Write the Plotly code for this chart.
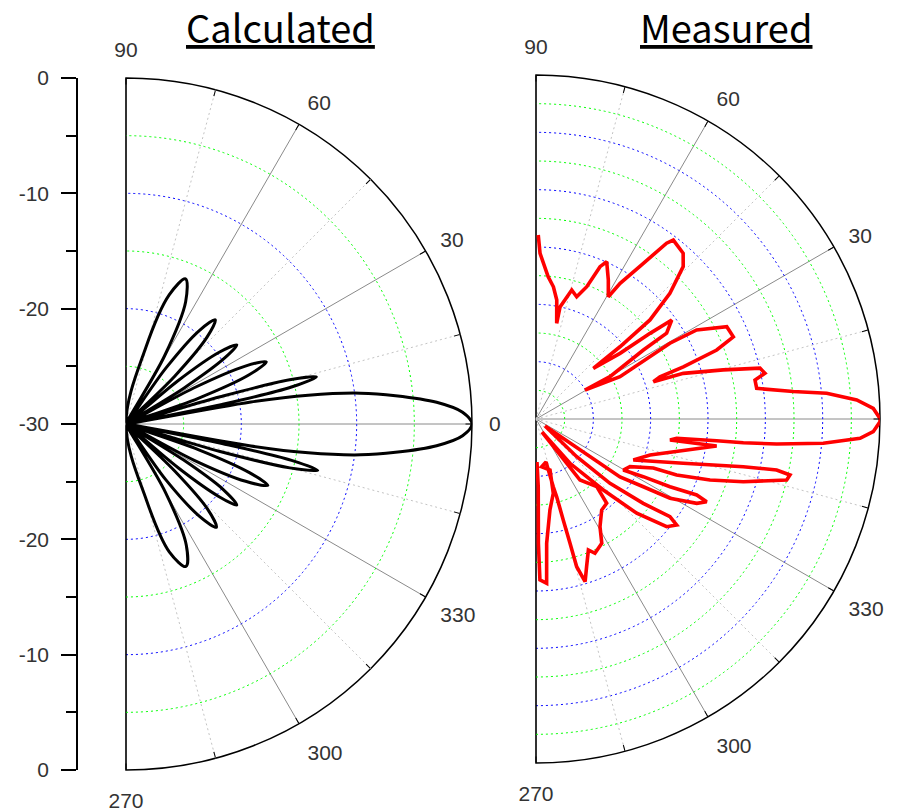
import plotly.graph_objects as go

# ---------------- data ----------------
calc_theta = [-78.5, -75, -71.3, -67.2, -63.5, -60, -57,
              -54.5, -51.5, -48.8, -46.2, -44, -42,
              -40, -38, -36.2, -34, -32, -30,
              -28, -25.6, -23.4, -21.5, -19.5, -17.5,
              -16.3, -15, -13.6, -12.4, -11.5, -10.8,
              -10, -9, -7.5, -6, -4, -2, 0, 2, 4, 6, 7.5, 9, 10, 10.8,
              11.5, 12.6, 13.9, 15.1, 16.1, 17.2,
              19.6, 21.8, 23.9, 25.9, 28, 30,
              31.8, 33.7, 35.5, 37.6, 39.8, 42,
              44.5, 47, 49.4, 51.9, 54.5, 57,
              60.5, 64, 67.7, 71.5, 75.5, 79]
calc_db = [-30, -23.2, -18.3, -16.6, -18.3, -23.2, -30,
           -24.1, -19.8, -18.1, -19.8, -24.1, -30,
           -24.1, -19.8, -18.1, -19.8, -24.1, -30,
           -23.3, -18.5, -16.6, -18.5, -23.3, -30,
           -21.5, -15.3, -12.9, -15.3, -21.5, -30,
           -19, -14, -9.5, -6.5, -3, -0.8, 0, -0.8, -3, -6.5, -9.5, -14, -19, -30,
           -21.5, -15.3, -13, -15.3, -21.5, -30,
           -23.35, -18.5, -16.7, -18.5, -23.35, -30,
           -24.1, -19.8, -18.2, -19.8, -24.1, -30,
           -24.05, -19.7, -18.1, -19.7, -24.05, -30,
           -23.2, -18.2, -16.4, -18.2, -23.2, -30]

meas_theta = [89.3, 88.6, 85.1, 82.5, 80.1, 77.8, 77.9, 74.5, 71.6, 69.0, 67.2, 65.8,
              62.5, 59.4, 58.2, 55.4, 53.4, 52.5, 48.4, 46.0, 43.2, 41.0, 40.7, 41.5,
              38.0, 36.9, 36.1, 33.3, 32.7, 29.8, 30.6, 26.7, 29.5, 29.0, 25.8, 22.6,
              20.9, 19.5, 18.8, 17.6, 17.2, 14.7, 12.8, 11.3, 10.1, 7.9, 6.1, 5.05,
              3.4, 1.8, 0.1,
              -0.45, -2.16, -3.41, -4.83, -5.93, -6.52, -6.85, -7.81, -8.91, -8.5,
              -17.5, -22.85, -16.74, -12.96, -11.96, -12.43, -13.68, -16.83, -19.32,
              -21.7, -22.67, -26.9, -30.3, -28.27, -26.8, -25.3, -25.85, -27.68,
              -30.6, -32.25, -34.6, -37.9, -42.8, -41.0, -38.2, -36.1, -37.0, -39.5,
              -43.1, -46.5, -52.5, -65.2, -54.2, -48.1, -50.0, -54.2, -59.3, -62.1,
              -66.3, -68.2, -71.1, -73.2, -74.6, -74.7, -74.9, -75.1, -75.7, -76.9,
              -83.2, -74.6, -76.9, -81.3, -85.1, -86.3, -88.6, -88.9, -88.1, -88.7]
meas_db = [-13.95, -15.55, -17.55, -18.37, -19.47, -21.46, -20.0, -18.33, -18.76, -17.64, -15.59, -14.96,
           -16.34, -17.61, -16.08, -13.51, -10.9, -10.33, -10.67, -11.52, -13.98, -16.83, -20.34, -23.33,
           -20.7, -17.56, -15.35, -16.37, -18.87, -22.57, -25.04, -21.8, -16.58, -13.98, -11.52, -11.36,
           -13.13, -16.37, -18.58, -19.26, -16.55, -13.12, -9.97, -9.64, -10.6, -10.57, -7.44, -4.55,
           -1.98, -0.57, 0.0,
           0.0, -0.57, -1.69, -4.86, -8.9, -11.8, -14.13, -17.62, -18.17, -14.07,
           -19.57, -20.79, -16.59, -11.45, -8.55, -7.32, -7.5, -11.11, -13.92,
           -16.8, -18.91, -20.81, -21.18, -19.38, -16.91, -14.5, -13.46, -14.17,
           -16.42, -18.93, -21.1, -29.0, -25.16, -21.45, -18.1, -15.54, -14.64, -15.23,
           -17.97, -21.47, -25.13, -28.75, -23.44, -22.07, -20.41, -20.21, -19.07, -17.74,
           -17.21, -17.7, -16.38, -15.18, -16.64, -18.76, -20.88, -22.99, -23.9, -26.15,
           -25.81, -25.39, -23.35, -21.97, -19.12, -15.64, -15.96, -19.16, -24.1, -26.25]

# axis / grid labels
angle_vals = [-90, -60, -30, 0, 30, 60, 90]
angle_text = ["270", "300", "330", "0", "30", "60", "90"]
minor_angle_vals = [-75, -45, -15, 15, 45, 75]
all_angle_ticks = [-90, -75, -60, -45, -30, -15, 0, 15, 30, 45, 60, 75, 90]
calc_major_rings = [-20, -10]
calc_minor_rings = [-25, -15, -5]
meas_major_rings = [-25, -20, -15, -10, -5]
meas_minor_rings = [-27.5, -22.5, -17.5, -12.5, -7.5, -2.5]
r_range = [-30, 0]
left_axis_vals = [-30, -20, -10, 0, 10, 20, 30]
left_axis_text = ["0", "-10", "-20", "-30", "-20", "-10", "0"]
titles = ["Calculated", "Measured"]

W, H = 904, 810
OFF = 8  # page offset of the graph div (default body margin)


def px_x(p):
    return (p - OFF) / W


def px_y(p):
    return 1 - (p - OFF) / H


DOT = "2px,3px"
tick_font = dict(family="Liberation Sans, Arial", size=21, color="#333333")


def polar_layers(xdom, ydom, major_rings, minor_rings):
    base = dict(domain=dict(x=xdom, y=ydom), sector=[-90, 90])
    A = dict(base, bgcolor="white",
             radialaxis=dict(range=r_range, tickvals=major_rings, showticklabels=False,
                             ticks="", showline=False, gridcolor="#0000ff",
                             griddash=DOT, gridwidth=1.2),
             angularaxis=dict(tickvals=angle_vals, ticktext=angle_text, ticks="outside",
                              ticklen=12, tickcolor="rgba(0,0,0,0)", showline=True,
                              linecolor="black", linewidth=1.5, gridcolor="#8a8a8a",
                              gridwidth=1, tickfont=tick_font))
    B = dict(base, bgcolor="rgba(0,0,0,0)",
             radialaxis=dict(range=r_range, tickvals=minor_rings, showticklabels=False,
                             ticks="", showline=False, gridcolor="#00ff00",
                             griddash=DOT, gridwidth=1.2),
             angularaxis=dict(tickvals=minor_angle_vals, showticklabels=False, ticks="",
                              showline=False, gridcolor="#c4c4c4", griddash=DOT,
                              gridwidth=1.2))
    C = dict(base, bgcolor="rgba(0,0,0,0)",
             radialaxis=dict(range=r_range, showgrid=False, showticklabels=False,
                             ticks="", showline=False),
             angularaxis=dict(tickvals=all_angle_ticks, showticklabels=False,
                              ticks="inside", ticklen=6, tickcolor="black",
                              tickwidth=1, showgrid=False, showline=False))
    return A, B, C


lx = [px_x(126), px_x(472)]
ly = [px_y(770), px_y(78)]
rx = [px_x(536), px_x(880)]
ry = [px_y(763), px_y(75)]

pA, pB, pC = polar_layers(lx, ly, calc_major_rings, calc_minor_rings)
qA, qB, qC = polar_layers(rx, ry, meas_major_rings, meas_minor_rings)

fig = go.Figure()
# invisible helper traces so that every polar layer is created
for sp in ["polar", "polar2"]:
    fig.add_trace(go.Scatterpolar(r=calc_db, theta=calc_theta, mode="lines",
                                  line=dict(color="rgba(0,0,0,0)"), hoverinfo="skip",
                                  showlegend=False, subplot=sp))
for sp in ["polar4", "polar5"]:
    fig.add_trace(go.Scatterpolar(r=meas_db, theta=meas_theta, mode="lines",
                                  line=dict(color="rgba(0,0,0,0)"), hoverinfo="skip",
                                  showlegend=False, subplot=sp))

fig.add_trace(go.Scatterpolar(r=calc_db, theta=calc_theta, mode="lines",
                              line=dict(color="black", width=3, shape="spline"),
                              showlegend=False, subplot="polar3"))
fig.add_trace(go.Scatterpolar(r=meas_db, theta=meas_theta, mode="lines",
                              line=dict(color="#ff0000", width=3.6),
                              showlegend=False, subplot="polar6"))
# empty cartesian trace to host the left dB axis
fig.add_trace(go.Scatter(x=[], y=[], showlegend=False))

fig.update_layout(
    width=W, height=H, autosize=False,
    margin=dict(l=0, r=0, t=0, b=0, pad=0, autoexpand=False),
    paper_bgcolor="white", plot_bgcolor="rgba(0,0,0,0)",
    polar=pA, polar2=pB, polar3=pC, polar4=qA, polar5=qB, polar6=qC,
    xaxis=dict(domain=[px_x(77), px_x(100)], visible=False, range=[0, 1],
               automargin=False),
    yaxis=dict(domain=ly, range=[-30, 30], anchor="free", position=px_x(77), side="left",
               tickmode="array", tickvals=left_axis_vals, ticktext=left_axis_text,
               ticks="outside", ticklen=15, tickwidth=1.5, tickcolor="black",
               showline=True, linecolor="black", linewidth=1.5, showgrid=False,
               zeroline=False, tickfont=tick_font, ticklabelstandoff=8, automargin=False,
               minor=dict(dtick=5, tick0=0, ticks="outside", ticklen=10,
                          tickwidth=1.5, tickcolor="black", showgrid=False)),
    shapes=[dict(type="rect", xref="paper", yref="paper", x0=px_x(347), x1=px_x(610),
                 y0=px_y(3), y1=1.05, fillcolor="#ffc000", line=dict(width=0))],
    annotations=[
        dict(text="<u>" + titles[0] + "</u>", x=px_x(280), y=px_y(26), xref="paper",
             yref="paper", showarrow=False, xanchor="center", yanchor="middle",
             font=dict(family="Noto Sans CJK JP", size=38, color="black")),
        dict(text="<u>" + titles[1] + "</u>", x=px_x(726), y=px_y(26), xref="paper",
             yref="paper", showarrow=False, xanchor="center", yanchor="middle",
             font=dict(family="Noto Sans CJK JP", size=38, color="black")),
    ],
)

fig.write_html("out.html")
